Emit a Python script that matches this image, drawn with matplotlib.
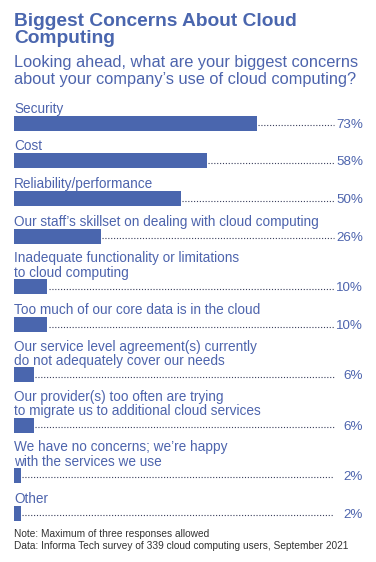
import matplotlib.pyplot as plt

plt.rcParams['font.family'] = ['Liberation Sans', 'DejaVu Sans']

labels = [
    "Security",
    "Cost",
    "Reliability/performance",
    "Our staff\u2019s skillset on dealing with cloud computing",
    "Inadequate functionality or limitations\nto cloud computing",
    "Too much of our core data is in the cloud",
    "Our service level agreement(s) currently\ndo not adequately cover our needs",
    "Our provider(s) too often are trying\nto migrate us to additional cloud services",
    "We have no concerns; we\u2019re happy\nwith the services we use",
    "Other",
]
values = [73, 58, 50, 26, 10, 10, 6, 6, 2, 2]

blue = '#4a66ae'
text_blue = '#4d64ad'

W, H = 376, 562
fig = plt.figure(figsize=(W / 100, H / 100), dpi=100)
ax = fig.add_axes([0, 0, 1, 1])
px_per_pct = 3.33
x0 = 14
ax.set_xlim(-x0 / px_per_pct, (W - x0) / px_per_pct)
ax.set_ylim(H, 0)
ax.axis('off')

def px(x):
    return (x - x0) / px_per_pct

# title block
ax.text(px(14), 30, "Biggest Concerns About Cloud\nComputing", fontsize=13.8,
        fontweight='bold', color=blue, va='center', ha='left', linespacing=1.0)
ax.text(px(14), 71, "Looking ahead, what are your biggest concerns\nabout your company\u2019s use of cloud computing?",
        fontsize=11.8, color=text_blue, va='center', ha='left', linespacing=1.17)

# bars
extra = 0
for i, (lab, v) in enumerate(zip(labels, values)):
    n = lab.count('\n')
    extra += n
    yc = 123 + 37.8 * i + 12.5 * extra
    ax.barh(yc, v, height=15, left=0, color=blue)
    ax.plot([v + 0.4, px(334)], [yc + 2, yc + 2], color='#3a3f5c',
            linestyle=(0, (1, 1.6)), linewidth=0.8)
    ax.text(px(363), yc + 1.5, f"{v}%", ha='right', va='center', fontsize=9.6,
            color=text_blue)
    ax.text(px(14), yc - 14.5 - 6.5 * n, lab, ha='left', va='center', fontsize=9.8,
            color=text_blue, linespacing=1.04)

ax.text(px(14), 540, "Note: Maximum of three responses allowed\nData: Informa Tech survey of 339 cloud computing users, September 2021",
        fontsize=7.3, color='#333333', va='center', ha='left', linespacing=1.35)

fig.savefig('out.png', dpi=100)
